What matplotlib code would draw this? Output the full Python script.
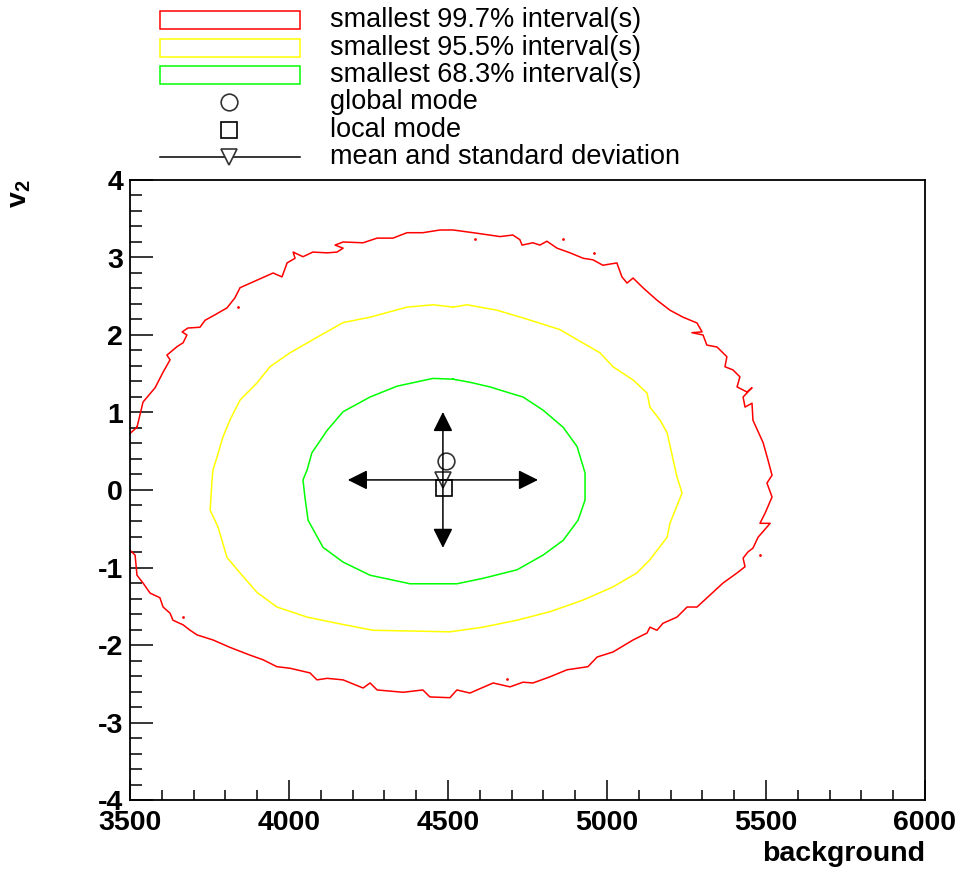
import matplotlib
matplotlib.use("Agg")
import matplotlib.pyplot as plt
from matplotlib.patches import Rectangle
from matplotlib.ticker import MultipleLocator

plt.rcParams["font.family"] = ["Liberation Sans", "DejaVu Sans"]
plt.rcParams["mathtext.fontset"] = "custom"
plt.rcParams["mathtext.rm"] = "Liberation Sans"
plt.rcParams["mathtext.bf"] = "Liberation Sans:bold"
plt.rcParams["axes.unicode_minus"] = False

# smallest-interval contours of the 2D marginalized posterior (background, v2)
green_x = [4516, 4453, 4340, 4255, 4170, 4120, 4072, 4057, 4044, 4050, 4060,
           4107, 4170, 4255, 4381, 4528, 4610, 4717, 4799, 4862, 4909, 4931,
           4931, 4906, 4862, 4799, 4736, 4695, 4632, 4569]
green_y = [1.43, 1.44, 1.34, 1.20, 1.01, 0.77, 0.48, 0.26, 0.13, -0.09, -0.39,
           -0.74, -0.93, -1.10, -1.21, -1.21, -1.14, -1.03, -0.84, -0.65,
           -0.39, -0.13, 0.22, 0.56, 0.81, 1.03, 1.20, 1.25, 1.33, 1.39]

yellow_x = [4516, 4453, 4371, 4255, 4170, 4088, 4003, 3940, 3899, 3846, 3814,
            3792, 3774, 3761, 3758, 3752, 3777, 3805, 3846, 3899, 3962, 4057,
            4151, 4264, 4390, 4506, 4610, 4717, 4821, 4925, 5019, 5094, 5135,
            5189, 5198, 5236, 5220, 5208, 5189, 5167, 5135, 5126, 5082, 5019,
            4978, 4906, 4852, 4736, 4654, 4560]
yellow_y = [2.36, 2.39, 2.36, 2.23, 2.16, 1.97, 1.77, 1.59, 1.38, 1.16, 0.90,
            0.68, 0.43, 0.26, 0.13, -0.26, -0.48, -0.87, -1.07, -1.32, -1.51,
            -1.64, -1.72, -1.81, -1.82, -1.83, -1.77, -1.68, -1.57, -1.42,
            -1.25, -1.07, -0.90, -0.61, -0.43, -0.04, 0.17, 0.39, 0.74, 0.90,
            1.07, 1.25, 1.42, 1.59, 1.77, 1.94, 2.07, 2.22, 2.32, 2.39]

# the 99.7% contour runs past the left edge between v2 ~ -0.8 and 0.8
red_x = [3522, 3541, 3579, 3604, 3626, 3616, 3648, 3667, 3679, 3664, 3682,
         3720, 3736, 3767, 3805, 3830, 3846, 3868, 3918, 3950, 3978, 3994,
         4019, 4013, 4044, 4075, 4120, 4151, 4170, 4145, 4170, 4233, 4277,
         4327, 4371, 4421, 4475, 4516, 4579, 4664, 4704, 4726, 4733, 4767,
         4789, 4811, 4843, 4884, 4925, 4956, 4987, 5031, 5047, 5063, 5082,
         5113, 5157, 5198, 5239, 5283, 5299, 5267, 5302, 5314, 5346, 5377,
         5371, 5396, 5418, 5409, 5440, 5456, 5428, 5434, 5456, 5459, 5491,
         5506, 5519, 5503, 5519, 5497, 5481, 5513, 5475, 5459, 5443, 5428,
         5434, 5409, 5365, 5324, 5283, 5252, 5220, 5176, 5157, 5135, 5126,
         5082, 5019, 4969, 4940, 4874, 4821, 4767, 4736, 4695, 4642, 4569,
         4528, 4506, 4443, 4421, 4359, 4277, 4255, 4233, 4170, 4120, 4088,
         4066, 4003, 3962, 3918, 3877, 3836, 3814, 3761, 3711, 3689, 3667,
         3635, 3626, 3604, 3594, 3563, 3541, 3522, 3516, 3300]
red_y = [0.81, 1.135, 1.32, 1.52, 1.68, 1.74, 1.85, 1.90, 2.00, 2.04, 2.09,
         2.10, 2.19, 2.26, 2.35, 2.48, 2.61, 2.65, 2.74, 2.80, 2.75, 2.93,
         2.99, 3.07, 3.01, 3.07, 3.06, 3.07, 3.12, 3.16, 3.20, 3.19, 3.25,
         3.25, 3.32, 3.32, 3.355, 3.355, 3.32, 3.27, 3.29, 3.23, 3.16, 3.19,
         3.16, 3.21, 3.12, 3.06, 2.99, 2.97, 2.90, 2.93, 2.75, 2.67, 2.735,
         2.61, 2.45, 2.32, 2.23, 2.155, 2.04, 2.03, 2.00, 1.87, 1.845, 1.72,
         1.59, 1.55, 1.46, 1.33, 1.265, 1.32, 1.20, 1.07, 1.12, 0.90, 0.61,
         0.39, 0.19, 0.09, -0.09, -0.30, -0.43, -0.43, -0.61, -0.75, -0.80,
         -0.88, -0.99, -1.07, -1.20, -1.355, -1.51, -1.51, -1.64, -1.72,
         -1.81, -1.77, -1.845, -1.935, -2.09, -2.155, -2.28, -2.32, -2.41,
         -2.49, -2.48, -2.54, -2.49, -2.62, -2.58, -2.68, -2.67, -2.58,
         -2.61, -2.58, -2.49, -2.555, -2.45, -2.43, -2.45, -2.36, -2.30,
         -2.28, -2.19, -2.13, -2.065, -2.03, -1.935, -1.87, -1.81, -1.74,
         -1.68, -1.59, -1.51, -1.39, -1.33, -1.20, -1.10, -0.84, 0.0]

# small isolated islands of the 99.7% region
red_spots_x = [3840, 4585, 4862, 4959, 5481, 4686, 3667]
red_spots_y = [2.36, 3.24, 3.24, 3.06, -0.84, -2.44, -1.64]

global_mode_x, global_mode_y = 4494, 0.37
local_mode_x, local_mode_y = 4487, 0.03
mean_x, mean_y = 4484, 0.13
std_x, std_y = 299, 0.877

labels = ["smallest 99.7% interval(s)", "smallest 95.5% interval(s)",
          "smallest 68.3% interval(s)", "global mode", "local mode",
          "mean and standard deviation"]

RED, YELLOW, GREEN = "#ff0000", "#ffff00", "#00ff00"
MARK = "#333333"


def closed(xs, ys):
    return list(xs) + [xs[0]], list(ys) + [ys[0]]


def draw_posterior(ax):
    for xs, ys, col in [(red_x, red_y, RED), (yellow_x, yellow_y, YELLOW),
                        (green_x, green_y, GREEN)]:
        cx, cy = closed(xs, ys)
        ax.plot(cx, cy, color=col, lw=1.1)
    ax.plot(red_spots_x, red_spots_y, "o", color=RED, ms=2.0, mew=0)

    arrow = dict(arrowstyle="-|>", color="k", lw=1.1, mutation_scale=30,
                 shrinkA=0, shrinkB=0)
    for dx, dy in [(std_x, 0), (-std_x, 0), (0, std_y), (0, -std_y)]:
        ax.annotate("", xy=(mean_x + dx, mean_y + dy), xytext=(mean_x, mean_y),
                    arrowprops=arrow)

    ax.plot(global_mode_x, global_mode_y, "o", ms=12, mfc="none", mec=MARK,
            mew=1.2)
    ax.plot(local_mode_x, local_mode_y, "s", ms=12, mfc="none", mec="k",
            mew=1.2)
    ax.plot(mean_x, mean_y, "v", ms=12, mfc="none", mec=MARK, mew=1.2)

    ax.set_xlim(3500, 6000)
    ax.set_ylim(-4, 4)
    ax.xaxis.set_major_locator(MultipleLocator(500))
    ax.xaxis.set_minor_locator(MultipleLocator(100))
    ax.yaxis.set_major_locator(MultipleLocator(1))
    ax.yaxis.set_minor_locator(MultipleLocator(0.2))
    ax.tick_params(axis="both", which="both", direction="in", width=1.1,
                   top=False, right=False, labelsize=20.5, colors="k")
    ax.tick_params(axis="x", which="major", length=14.5, pad=7)
    ax.tick_params(axis="x", which="minor", length=7)
    ax.tick_params(axis="y", which="major", length=16.5, pad=5)
    ax.tick_params(axis="y", which="minor", length=8.5)
    for lab in ax.get_xticklabels() + ax.get_yticklabels():
        lab.set_fontweight("bold")
    for sp in ax.spines.values():
        sp.set_linewidth(1.3)

    ax.set_xlabel("background", loc="right", fontsize=20.5,
                  fontweight="bold", labelpad=4)
    ax.set_ylabel(r"$\mathbf{v_2}$", loc="top", fontsize=20.5)
    ax.yaxis.set_label_coords(-0.122, 1.0)


def draw_legend(lx):
    lx.set_xlim(0, 961)
    lx.set_ylim(175, 0)
    lx.axis("off")
    rows = [20, 48, 75, 102, 130, 157]
    for row, col in zip(rows[:3], [RED, YELLOW, GREEN]):
        lx.add_patch(Rectangle((160, row - 9), 140, 18, fill=False,
                               edgecolor=col, lw=1.1))
    lx.plot(229, rows[3], "o", ms=12, mfc="none", mec=MARK, mew=1.2)
    lx.plot(229, rows[4], "s", ms=12, mfc="none", mec="k", mew=1.2)
    lx.plot([160, 300], [rows[5], rows[5]], color="k", lw=1.1)
    lx.plot(229, rows[5], "v", ms=12, mfc="white", mec=MARK, mew=1.2)
    for row, text in zip(rows, labels):
        lx.text(330, row, text, fontsize=19.5, va="center", ha="left")


def main():
    fig = plt.figure(figsize=(9.61, 8.71), dpi=100)
    ax = fig.add_axes([130 / 961, 71 / 871, 795 / 961, 620 / 871])
    lx = fig.add_axes([0, 1 - 175 / 871, 1, 175 / 871])
    draw_posterior(ax)
    draw_legend(lx)
    fig.savefig("out.png", dpi=100)


if __name__ == "__main__":
    main()
